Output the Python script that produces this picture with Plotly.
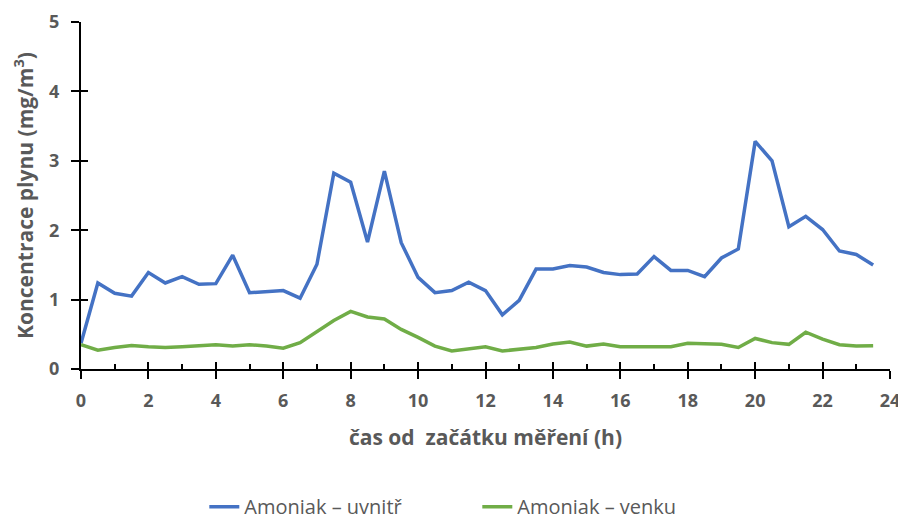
import plotly.graph_objects as go

hours = [i * 0.5 for i in range(48)]
inside = [0.37, 1.24, 1.09, 1.05, 1.39, 1.24, 1.33, 1.22, 1.23, 1.64,
          1.10, 1.12, 1.13, 1.02, 1.51, 2.82, 2.69, 1.83, 2.85, 1.82,
          1.32, 1.10, 1.13, 1.25, 1.13, 0.78, 0.99, 1.44, 1.44, 1.49,
          1.47, 1.39, 1.36, 1.37, 1.62, 1.42, 1.42, 1.33, 1.60, 1.73,
          3.28, 3.00, 2.05, 2.20, 2.01, 1.70, 1.65, 1.50]
outside = [0.35, 0.27, 0.31, 0.34, 0.32, 0.31, 0.32, 0.33, 0.35, 0.33,
           0.35, 0.33, 0.30, 0.38, 0.54, 0.70, 0.83, 0.75, 0.72, 0.57,
           0.455, 0.33, 0.26, 0.29, 0.32, 0.26, 0.29, 0.31, 0.36, 0.39,
           0.33, 0.36, 0.32, 0.32, 0.33, 0.32, 0.37, 0.36, 0.355, 0.31,
           0.44, 0.38, 0.355, 0.53, 0.43, 0.35, 0.33, 0.335]
names = ["Amoniak – uvnitř", "Amoniak – venku"]
colors = ["#4472C4", "#70AD47"]
x_title = "čas od  začátku měření (h)"
y_title = "Koncentrace plynu (mg/m<sup>3</sup>)"

FONT = "Open Sans"
GRAY = "#595959"

fig = go.Figure()
for vals, name, col in zip([inside, outside], names, colors):
    fig.add_trace(go.Scatter(x=hours, y=vals, mode="lines", name=name,
                             line=dict(color=col, width=3.5)))
# dummy trace for overlay axes
fig.add_trace(go.Scatter(x=[0], y=[0], xaxis="x2", yaxis="y2", mode="lines",
                         line=dict(width=0), showlegend=False, hoverinfo="skip"))

axis_common = dict(showgrid=False, zeroline=False, linecolor="black", linewidth=2,
                   tickcolor="black", tickwidth=2, automargin=False)

fig.update_layout(
    width=906, height=520,
    margin=dict(l=73, r=24, t=14, b=159),
    paper_bgcolor="white", plot_bgcolor="white",
    font=dict(family=FONT, color=GRAY),
    xaxis=dict(range=[0, 24], dtick=2, tick0=0, ticks="outside", ticklen=8,
               showline=True, ticklabelstandoff=6,
               tickfont=dict(family=FONT, size=18, color=GRAY, weight="bold"),
               title=dict(text=x_title, standoff=20,
                          font=dict(family=FONT, size=21, color=GRAY, weight="bold")),
               **axis_common),
    yaxis=dict(range=[0, 5], dtick=1, tick0=0, ticks="outside", ticklen=8,
               showline=True, ticklabelstandoff=8,
               tickfont=dict(family=FONT, size=18, color=GRAY, weight="bold"),
               title=dict(text=y_title, standoff=17,
                          font=dict(family=FONT, size=21, color=GRAY, weight="bold")),
               **axis_common),
    xaxis2=dict(range=[0, 24], overlaying="x", anchor="y2", dtick=2, tick0=0,
                ticks="inside", ticklen=7, showticklabels=False, showline=False,
                minor=dict(dtick=1, tick0=0, ticks="inside", ticklen=5,
                           tickcolor="black", tickwidth=2, showgrid=False),
                showgrid=False, zeroline=False, tickcolor="black", tickwidth=2,
                automargin=False),
    yaxis2=dict(range=[0, 5], overlaying="y", anchor="x2", dtick=1, tick0=0,
                ticks="inside", ticklen=7, showticklabels=False, showline=False,
                showgrid=False, zeroline=False, tickcolor="black", tickwidth=2,
                automargin=False),
    legend=dict(orientation="h", xref="container", yref="container",
                x=0.518, xanchor="center", y=0.041, yanchor="middle",
                font=dict(family=FONT, size=20, color=GRAY),
                entrywidth=228, tracegroupgap=0),
    showlegend=True,
)

fig.write_html("out.html")
